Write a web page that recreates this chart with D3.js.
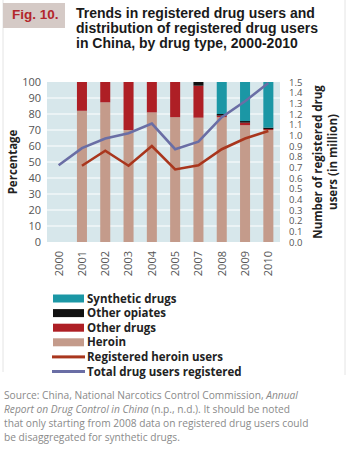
<!DOCTYPE html>
<html>
<head>
<meta charset="utf-8">
<script src="https://cdn.jsdelivr.net/npm/d3@7"></script>
<style>
  body { margin: 0; background: #fff; }
  svg { display: block; }
</style>
</head>
<body>
<div id="chart"></div>
<script>
// data
const years = ["2000", "2001", "2002", "2003", "2004", "2005", "2007", "2008", "2009", "2010"];
const heroin = [0, 82, 87.3, 70, 81, 78, 77.7, 78, 73, 70];
const otherDrugs = [0, 18, 12.7, 30, 19, 22, 20, 1, 1.6, 0.6];
const otherOpiates = [0, 0, 0, 0, 0, 0, 2.3, 1, 1, 0.9];
const synthetic = [0, 0, 0, 0, 0, 0, 0, 20, 24.4, 28.5];
const totalUsers = [0.72, 0.88, 0.97, 1.02, 1.11, 0.87, 0.94, 1.17, 1.32, 1.49];
const heroinUsers = [null, 0.715, 0.856, 0.715, 0.9, 0.68, 0.72, 0.87, 0.97, 1.04];
const leftTicks = [0, 10, 20, 30, 40, 50, 60, 70, 80, 90, 100];
const rightTicks = [0, 0.1, 0.2, 0.3, 0.4, 0.5, 0.6, 0.7, 0.8, 0.9, 1.0, 1.1, 1.2, 1.3, 1.4, 1.5];

const stackKeys = ["heroin", "otherDrugs", "otherOpiates", "synthetic"];
const colors = {
    heroin: "#c49b8b",
    otherDrugs: "#ae1f25",
    otherOpiates: "#111111",
    synthetic: "#1b97a5",
    heroinLine: "#a9361d",
    totalLine: "#6a6ea5"
};

const width = 350, height = 450;
const plot = {left: 47, right: 280, top: 82, bottom: 242};

const svg = d3.select("#chart").append("svg")
    .attr("width", width)
    .attr("height", height);

// frame
svg.append("line").attr("x1", 3).attr("x2", 3).attr("y1", 0).attr("y2", 372)
    .attr("stroke", "#e4e4e4");
svg.append("line").attr("x1", 345).attr("x2", 345).attr("y1", 0).attr("y2", 375)
    .attr("stroke", "#e4e4e4");

// header
svg.append("rect").attr("x", 3).attr("y", 3).attr("width", 62).attr("height", 25)
    .attr("fill", "#d5cac6");
svg.append("text").attr("x", 12).attr("y", 19)
    .attr("font-family", "Liberation Sans, Arial, sans-serif")
    .attr("font-weight", "bold").attr("font-size", 13.5)
    .attr("fill", "#b3262b")
    .text("Fig. 10.");

const titleLines = ["Trends in registered drug users and", "distribution of registered drug users", "in China, by drug type, 2000-2010"];
svg.append("g").selectAll("text").data(titleLines).join("text")
    .attr("x", 76).attr("y", (d, i) => 18 + i * 15)
    .attr("font-family", "Liberation Sans, Arial, sans-serif")
    .attr("font-weight", "bold").attr("font-size", 14)
    .attr("fill", "#1a1a1a")
    .text(d => d);

// scales
const x = d3.scaleBand().domain(years).range([plot.left, plot.right]).paddingInner(0.57).paddingOuter(0.285);
const y = d3.scaleLinear().domain([0, 100]).range([plot.bottom, plot.top]);
const y2 = d3.scaleLinear().domain([0, 1.5]).range([plot.bottom, plot.top]);

// background and grid
svg.append("rect")
    .attr("x", plot.left).attr("y", plot.top)
    .attr("width", plot.right - plot.left).attr("height", plot.bottom - plot.top)
    .attr("fill", "#d7e7eb");

svg.append("g").selectAll("line").data(leftTicks.slice(1, -1)).join("line")
    .attr("x1", plot.left).attr("x2", plot.right)
    .attr("y1", d => y(d)).attr("y2", d => y(d))
    .attr("stroke", "#fff").attr("stroke-width", 1.2);

// stacked bars
const rows = years.map((yr, i) => ({
    year: yr,
    heroin: heroin[i],
    otherDrugs: otherDrugs[i],
    otherOpiates: otherOpiates[i],
    synthetic: synthetic[i]
}));
const stacked = d3.stack().keys(stackKeys)(rows);

svg.append("g").selectAll("g").data(stacked).join("g")
    .attr("fill", d => colors[d.key])
    .selectAll("rect").data(d => d).join("rect")
    .attr("x", d => x(d.data.year))
    .attr("width", x.bandwidth())
    .attr("y", d => y(d[1]))
    .attr("height", d => y(d[0]) - y(d[1]));

// lines
const cx = yr => x(yr) + x.bandwidth() / 2;
const line = d3.line()
    .defined(d => d.v != null)
    .x(d => cx(d.year))
    .y(d => y2(d.v));

svg.append("path")
    .attr("d", line(years.map((yr, i) => ({year: yr, v: heroinUsers[i]}))))
    .attr("fill", "none").attr("stroke", colors.heroinLine).attr("stroke-width", 2.6)
    .attr("stroke-linejoin", "miter");

svg.append("path")
    .attr("d", line(years.map((yr, i) => ({year: yr, v: totalUsers[i]}))))
    .attr("fill", "none").attr("stroke", colors.totalLine).attr("stroke-width", 2.6);

// axes
const tickFont = "Open Sans, DejaVu Sans, sans-serif";

const yAxis = d3.axisLeft(y).tickValues(leftTicks).tickSize(0).tickPadding(6);
const gy = svg.append("g").attr("transform", "translate(" + plot.left + ",0)").call(yAxis);
gy.select(".domain").remove();
gy.selectAll("text").attr("font-family", tickFont).attr("font-size", 11).attr("fill", "#555");

const y2Axis = d3.axisRight(y2).tickValues(rightTicks).tickSize(0).tickPadding(9).tickFormat(d3.format(".1f"));
const gy2 = svg.append("g").attr("transform", "translate(" + plot.right + ",0)").call(y2Axis);
gy2.select(".domain").remove();
gy2.selectAll("text").attr("font-family", tickFont).attr("font-size", 9.5).attr("fill", "#555")
    .attr("transform", "scale(1.05,1.1)")
    .attr("transform", null);

// axis titles
svg.append("text")
    .attr("transform", "translate(17," + ((plot.top + plot.bottom) / 2) + ") rotate(-90)")
    .attr("text-anchor", "middle")
    .attr("font-family", tickFont).attr("font-weight", "bold").attr("font-size", 11.5)
    .attr("fill", "#222")
    .text("Percentage");

const xAxis = d3.axisBottom(x).tickSize(0).tickPadding(0);
const gx = svg.append("g").attr("transform", "translate(0," + plot.bottom + ")").call(xAxis);
gx.select(".domain").remove();
gx.selectAll("text")
    .attr("font-family", tickFont).attr("font-size", 11).attr("fill", "#555")
    .attr("transform", "rotate(-90)")
    .attr("text-anchor", "end")
    .attr("x", -9).attr("y", 0).attr("dy", "0.35em");

const rightTitle = ["Number of registered drug", "users (in million)"];
svg.append("g").selectAll("text").data(rightTitle).join("text")
    .attr("transform", (d, i) => "translate(" + (322 + i * 15) + "," + ((plot.top + plot.bottom) / 2) + ") rotate(-90)")
    .attr("text-anchor", "middle")
    .attr("font-family", tickFont).attr("font-weight", "bold").attr("font-size", 11.5)
    .attr("fill", "#222")
    .text(d => d);

// legend
const legendItems = [
    {label: "Synthetic drugs", color: colors.synthetic, type: "box"},
    {label: "Other opiates", color: colors.otherOpiates, type: "box"},
    {label: "Other drugs", color: colors.otherDrugs, type: "box"},
    {label: "Heroin", color: colors.heroin, type: "box"},
    {label: "Registered heroin users", color: colors.heroinLine, type: "line"},
    {label: "Total drug users registered", color: colors.totalLine, type: "line"}
];
const legend = svg.append("g").selectAll("g").data(legendItems).join("g")
    .attr("transform", (d, i) => "translate(53," + (298.5 + i * 14.6) + ")");
legend.append("rect")
    .attr("x", d => d.type === "box" ? 0 : -1)
    .attr("width", d => d.type === "box" ? 31 : 33)
    .attr("y", d => d.type === "box" ? -4 : -1.5)
    .attr("height", d => d.type === "box" ? 8 : 3)
    .attr("fill", d => d.color);
legend.append("text")
    .attr("x", 34).attr("dy", "0.35em")
    .attr("font-family", tickFont).attr("font-weight", "bold").attr("font-size", 11.5)
    .attr("fill", "#222")
    .text(d => d.label);

// source note
const source = svg.append("text")
    .attr("font-family", tickFont).attr("font-size", 10.2)
    .attr("fill", "#8a8a8a");
source.append("tspan").attr("x", 4).attr("y", 399).text("Source: China, National Narcotics Control Commission, ");
source.append("tspan").attr("font-style", "italic").text("Annual");
source.append("tspan").attr("x", 4).attr("y", 413).attr("font-style", "italic").text("Report on Drug Control in China");
source.append("tspan").text(" (n.p., n.d.). It should be noted");
source.append("tspan").attr("x", 4).attr("y", 427).text("that only starting from 2008 data on registered drug users could");
source.append("tspan").attr("x", 4).attr("y", 441).text("be disaggregated for synthetic drugs.");
</script>
</body>
</html>
